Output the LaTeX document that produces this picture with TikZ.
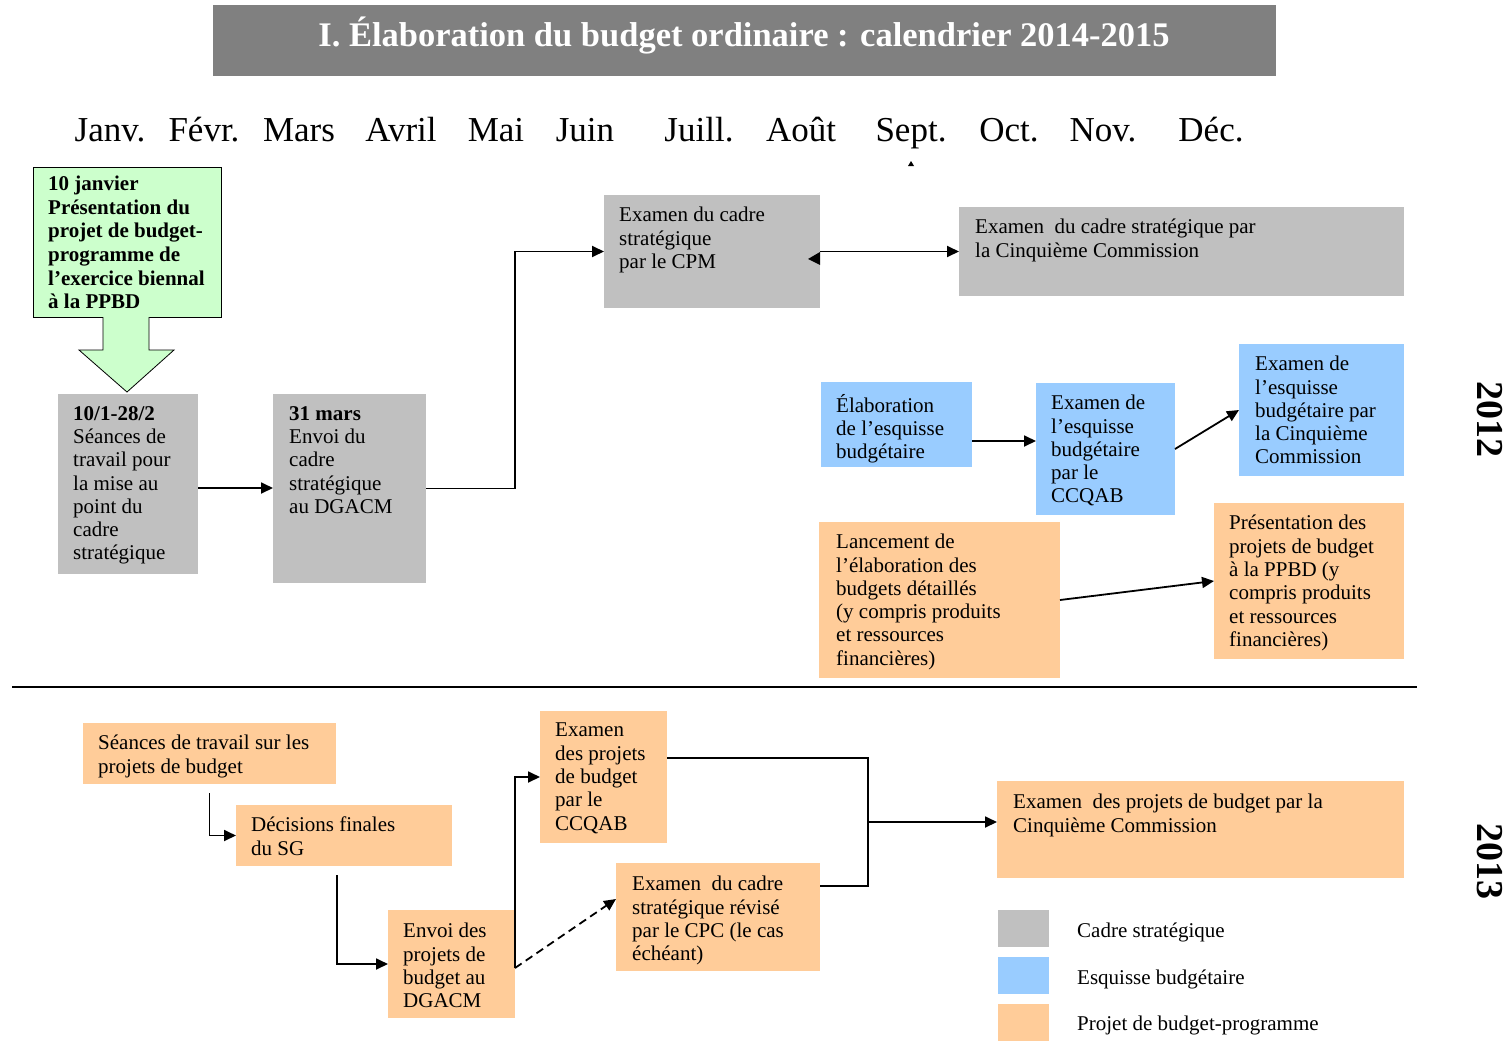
\documentclass[tikz,border=0pt]{standalone}
\usepackage{fontspec}
\setmainfont{Liberation Serif}
\usetikzlibrary{arrows.meta}

\definecolor{gris}{HTML}{C0C0C0}
\definecolor{bleu}{HTML}{99CCFF}
\definecolor{orange}{HTML}{FFCC99}
\definecolor{vertclair}{HTML}{CCFFCC}
\definecolor{titre}{HTML}{808080}

\begin{document}
\begin{tikzpicture}[x=1pt, y=-1pt,
    boite/.style={anchor=north west, inner sep=0pt, outer sep=0pt},
    texte/.style={anchor=north west, inner sep=0pt, align=left,
      font=\fontsize{21}{23.3}\selectfont, execute at begin node=\rule{0pt}{18pt}},
    mois/.style={anchor=base, font=\fontsize{35}{40}\selectfont},
    annee/.style={rotate=-90, font=\fontsize{38}{40}\selectfont\bfseries},
    fleche/.style={line width=1.8pt, -{Triangle[length=12pt,width=11pt]}},
    trait/.style={line width=1.5pt}]
    \useasboundingbox (0,0) rectangle (1509,1041);

    % titre
    \node[boite, fill=titre, minimum width=1063, minimum height=71] (titre) at (213,5) {};
    \node[anchor=base, text=white, font=\fontsize{34.5}{38}\selectfont\bfseries] (ttitre) at (744,47)
      {I. Élaboration du budget ordinaire : calendrier 2014-2015};

    % les mois
    \foreach \m/\x in {Janv./110, Févr./204, Mars/299, Avril/401, Mai/496, Juin/585,
      Juill./699, Août/801, Sept./911, Oct./1009, Nov./1103, Déc./1211}
      \node[mois] (m\x) at (\x,141) {\m};
    \fill (908,166) -- (911,161) -- (914,166) -- cycle;

    % 2012 : cadre strategique
    \node[boite, draw, line width=0.8pt, fill=vertclair, minimum width=188, minimum height=150] (vert) at (33,167) {};
    \node[texte, font=\fontsize{21}{23.6}\selectfont\bfseries] (tvert) at ([shift={(15,9)}]vert.north west)
      {10 janvier\\Présentation du\\projet de budget-\\programme de\\l’exercice biennal\\à la PPBD};
    \draw[fill=vertclair, line width=0.8pt] ([xshift=-24pt]vert.south) -- ++(0,33) -- ++(-24,0)
      -- ([yshift=-75pt]vert.south) -- ([xshift=47pt,yshift=-33pt]vert.south) -- ++(-25,0)
      -- ([xshift=22pt]vert.south);

    \node[boite, fill=gris, minimum width=140, minimum height=180] (seances) at (58,394) {};
    \node[texte] (tseances) at ([shift={(15,12)}]seances.north west)
      {\textbf{10/1-28/2}\\Séances de\\travail pour\\la mise au\\point du\\cadre\\stratégique};
    \node[boite, fill=gris, minimum width=153, minimum height=189] (envoi) at (273,394) {};
    \node[texte] (tenvoi) at ([shift={(16,12)}]envoi.north west)
      {\textbf{31 mars}\\Envoi du\\cadre\\stratégique\\au DGACM};
    \node[boite, fill=gris, minimum width=216, minimum height=113] (cpm) at (604,195) {};
    \node[texte] (tcpm) at ([shift={(15,12)}]cpm.north west)
      {Examen du cadre\\stratégique\\par le CPM};
    \node[boite, fill=gris, minimum width=445, minimum height=89] (cinq) at (959,207) {};
    \node[texte] (tcinq) at ([shift={(16,12)}]cinq.north west)
      {Examen \ du cadre stratégique par\\la Cinquième Commission};

    \coordinate (s1) at ([yshift=-4pt]seances.east);
    \draw[fleche] (s1) -- (s1 -| envoi.west);
    \draw[fleche] (envoi.east) -- ++(89,0) |- (cpm.west);
    \draw[fleche] (cpm.east) -- (cinq.west);
    \fill ([yshift=-0.5pt]cpm.east) -- ([shift={(-12,7.5)}]cpm.east) -- ([yshift=-13.5pt]cpm.east) -- cycle;

    % 2012 : esquisse budgetaire
    \node[boite, fill=bleu, minimum width=151, minimum height=85] (esq1) at (821,382) {};
    \node[texte] (tesq1) at ([shift={(15,12)}]esq1.north west)
      {Élaboration\\de l’esquisse\\budgétaire};
    \node[boite, fill=bleu, minimum width=139, minimum height=132] (esq2) at (1036,383) {};
    \node[texte] (tesq2) at ([shift={(15,12)}]esq2.north west)
      {Examen de\\l’esquisse\\budgétaire\\par le\\CCQAB};
    \node[boite, fill=bleu, minimum width=165, minimum height=132] (esq3) at (1239,344) {};
    \node[texte] (tesq3) at ([shift={(16,12)}]esq3.north west)
      {Examen de\\l’esquisse\\budgétaire par\\la Cinquième\\Commission};
    \coordinate (e1) at ([yshift=-16.5pt]esq1.east);
    \draw[fleche] (e1) -- (e1 -| esq2.west);
    \draw[fleche] (esq2.east) -- (esq3.west);

    % 2012 : projet de budget-programme
    \node[boite, fill=orange, minimum width=241, minimum height=156] (lanc) at (819,522) {};
    \node[texte] (tlanc) at ([shift={(17,12)}]lanc.north west)
      {Lancement de\\l’élaboration des\\budgets détaillés\\(y compris produits\\et ressources\\financières)};
    \node[boite, fill=orange, minimum width=190, minimum height=156] (pres) at (1214,503) {};
    \node[texte] (tpres) at ([shift={(15,12)}]pres.north west)
      {Présentation des\\projets de budget\\à la PPBD (y\\compris produits\\et ressources\\financières)};
    \draw[fleche] (lanc.east) -- (pres.west);

    \draw[line width=2.2pt] (12,687) -- (1417,687);
    \node[annee] (a2012) at (1490,419) {2012};
    \node[annee] (a2013) at (1490,861) {2013};

    % 2013
    \node[boite, fill=orange, minimum width=253, minimum height=61] (seances13) at (83,723) {};
    \node[texte] (tseances13) at ([shift={(15,12)}]seances13.north west)
      {Séances de travail sur les\\projets de budget};
    \node[boite, fill=orange, minimum width=216, minimum height=61] (decis) at (236,805) {};
    \node[texte] (tdecis) at ([shift={(15,12)}]decis.north west)
      {Décisions finales\\du SG};
    \node[boite, fill=orange, minimum width=127, minimum height=108] (envoi13) at (388,910) {};
    \node[texte] (tenvoi13) at ([shift={(15,13)}]envoi13.north west)
      {Envoi des\\projets de\\budget au\\DGACM};
    \node[boite, fill=orange, minimum width=127, minimum height=132] (ccqab) at (540,711) {};
    \node[texte] (tccqab) at ([shift={(15,12)}]ccqab.north west)
      {Examen\\des projets\\de budget\\par le\\CCQAB};
    \node[boite, fill=orange, minimum width=204, minimum height=108] (revise) at (616,863) {};
    \node[texte] (trevise) at ([shift={(16,13)}]revise.north west)
      {Examen \ du cadre\\stratégique révisé\\par le CPC (le cas\\échéant)};
    \node[boite, fill=orange, minimum width=407, minimum height=97] (cinq13) at (997,781) {};
    \node[texte] (tcinq13) at ([shift={(16,13)}]cinq13.north west)
      {Examen \ des projets de budget par la\\Cinquième Commission};

    \draw[fleche] ([yshift=-9pt]seances13.south) |- (decis.west);
    \draw[fleche] ([shift={(-7,9)}]decis.south) |- (envoi13.west);
    \coordinate (d) at ([yshift=-4pt]envoi13.east);
    \draw[fleche] (d) |- (ccqab.west);
    \draw[fleche, dash pattern=on 8pt off 5pt] (d) -- ([yshift=18pt]revise.west);
    \draw[trait] ([yshift=19pt]ccqab.east) -- ++(201,0) |- ([yshift=31pt]revise.east);
    \draw[fleche] ([shift={(-129,-7.5)}]cinq13.west) -- ([yshift=7.5pt]cinq13.west);

    % legende
    \node[boite, fill=gris, minimum width=51, minimum height=37] (lg1) at (998,910) {};
    \node[boite, fill=bleu, minimum width=51, minimum height=37] (lg2) at (998,957) {};
    \node[boite, fill=orange, minimum width=51, minimum height=37] (lg3) at (998,1004) {};
    \node[anchor=base west, inner sep=0pt, font=\fontsize{21}{23.3}\selectfont] (tlg1) at (1077,937) {Cadre stratégique};
    \node[anchor=base west, inner sep=0pt, font=\fontsize{21}{23.3}\selectfont] (tlg2) at (1077,984) {Esquisse budgétaire};
    \node[anchor=base west, inner sep=0pt, font=\fontsize{21}{23.3}\selectfont] (tlg3) at (1077,1030) {Projet de budget-programme};
\end{tikzpicture}
\end{document}
